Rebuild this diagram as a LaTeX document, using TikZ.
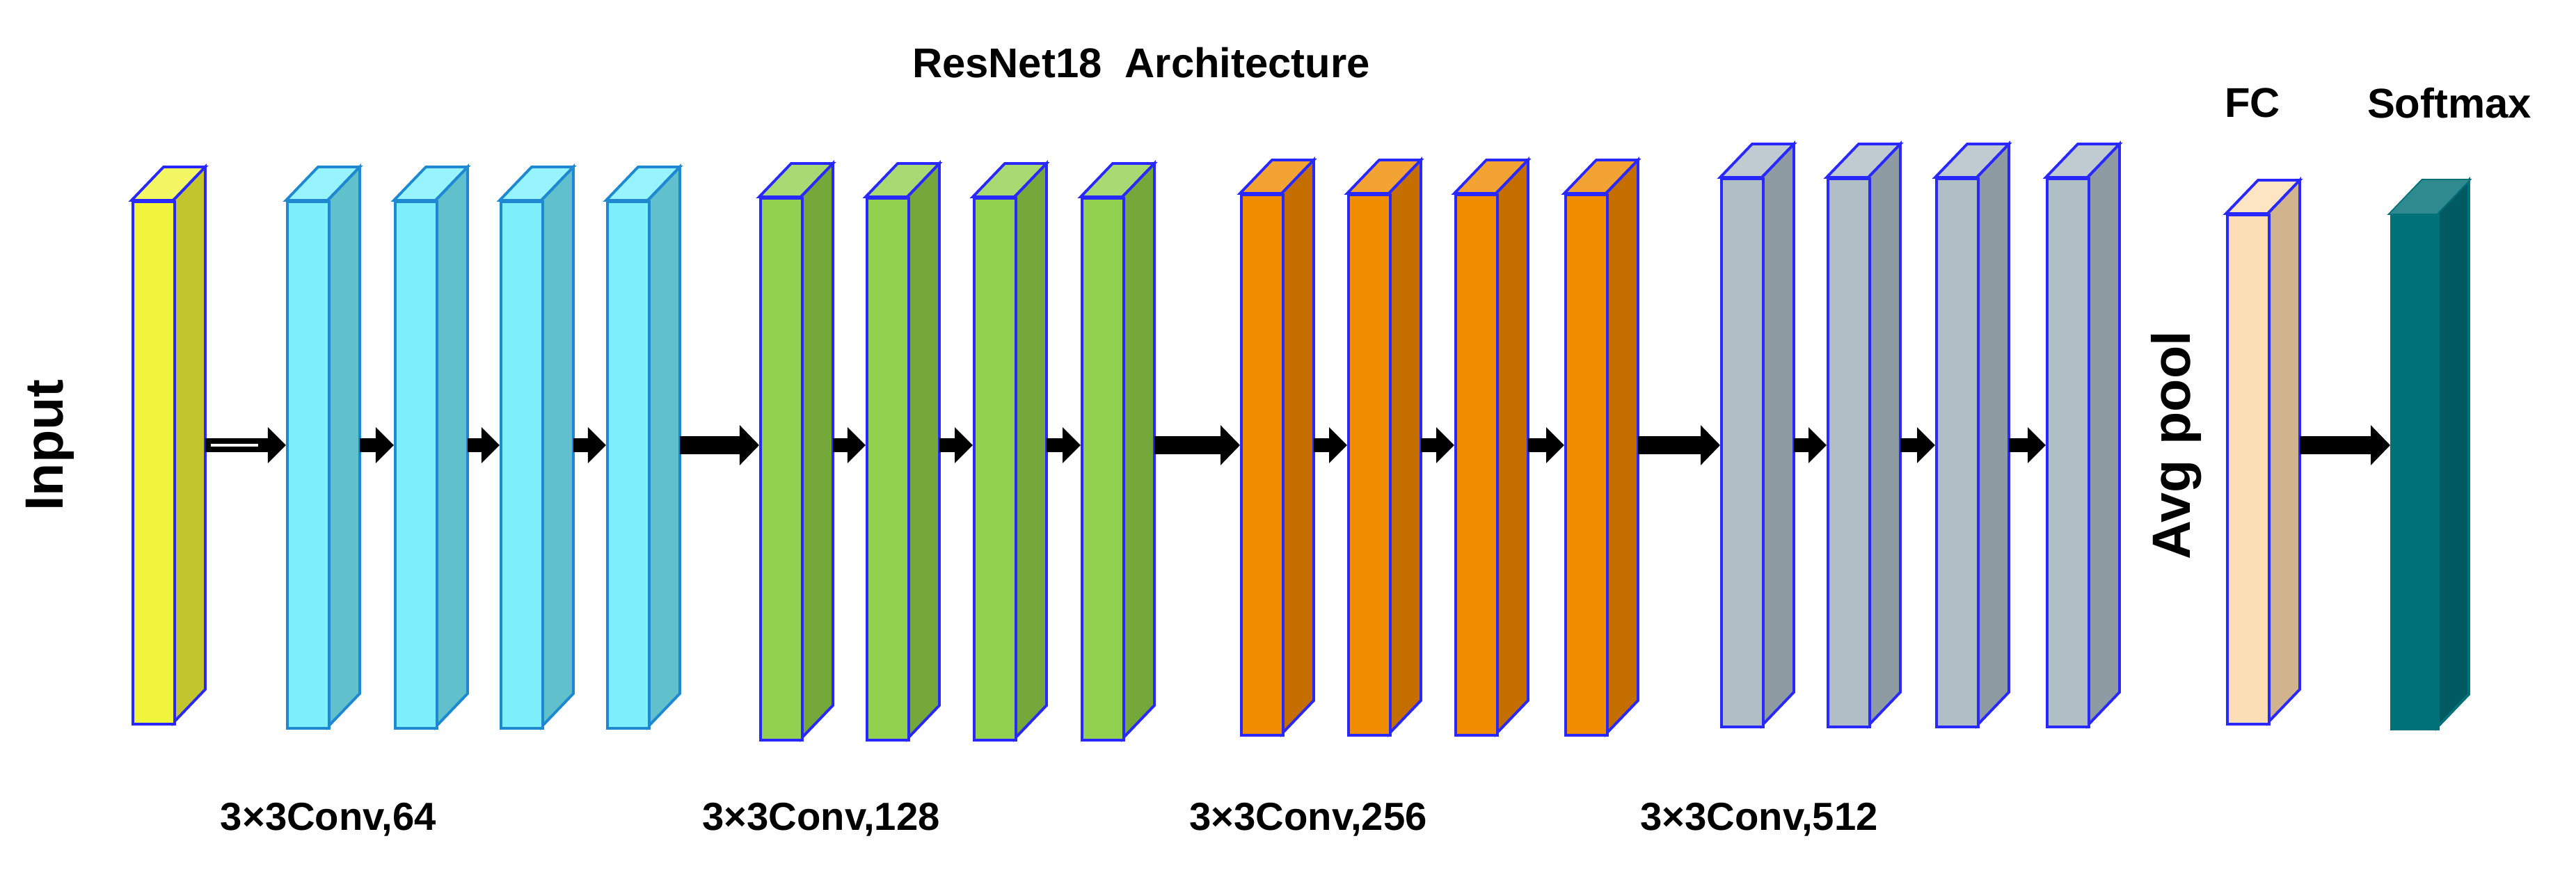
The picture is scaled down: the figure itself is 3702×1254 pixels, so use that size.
\documentclass[tikz,border=0pt]{standalone}
\usepackage{fontspec}
\setmainfont{Liberation Sans}
\usetikzlibrary{positioning,arrows.meta,calc}
\definecolor{inyel}{RGB}{240,245,60}
\definecolor{inyels}{RGB}{194,197,46}
\definecolor{cyanf}{RGB}{125,240,252}
\definecolor{cyans}{RGB}{96,192,204}
\definecolor{cyanb}{RGB}{30,136,208}
\definecolor{grnf}{RGB}{146,208,80}
\definecolor{grns}{RGB}{116,168,58}
\definecolor{orgf}{RGB}{240,140,0}
\definecolor{orgs}{RGB}{196,110,0}
\definecolor{gryf}{RGB}{176,190,197}
\definecolor{grys}{RGB}{142,155,163}
\definecolor{fcf}{RGB}{252,222,180}
\definecolor{fcs}{RGB}{209,180,142}
\definecolor{smf}{RGB}{0,112,121}
\definecolor{sms}{RGB}{0,90,98}
\definecolor{smt}{RGB}{47,138,144}
\definecolor{edge}{RGB}{40,40,255}

\tikzset{
  face/.style={draw=#1,line width=1.1pt,line join=miter},
  arr/.style={line width=0.2cm,-{Triangle[length=0.26cm,width=0.5cm]}},
  bigarr/.style={line width=0.26cm,-{Triangle[length=0.28cm,width=0.56cm]}},
  lbl/.style={font=\bfseries\fontsize{16}{18}\selectfont},
  ttl/.style={font=\bfseries\fontsize{17}{19}\selectfont},
  side/.style={font=\bfseries\fontsize{22}{24}\selectfont,rotate=90},
}
% #1 name, #2 x, #3 top, #4 bottom, #5 width, #6 front, #7 side, #8 edge
\newcommand{\prism}[8]{%
  \coordinate (#1-a) at (#2,#3);
  \coordinate (#1-b) at (#2+#5,#3);
  \coordinate (#1-c) at (#2+#5,#4);
  \coordinate (#1-d) at (#2,#4);
  \filldraw[face=#8,fill=#6!80!white] (#1-a) -- ++(46,-48) -- ++(#5,0) -- (#1-b) -- cycle;
  \filldraw[face=#8,fill=#7] (#1-b) -- ++(46,-48) -- ($(#1-c)+(46,-48)$) -- (#1-c) -- cycle;
  \node[face=#8,fill=#6,inner sep=0pt,anchor=north west,
        minimum width=#5*0.01cm,minimum height=(#4-#3)*0.01cm] (#1) at (#1-a) {};
  \coordinate (#1-out) at (#2+#5+46,640);
}

\begin{document}
\begin{tikzpicture}[x=0.01cm,y=-0.01cm]
\useasboundingbox (0,0) rectangle (3702,1254);

% blocks
\prism{in}{189}{288}{1039}{60}{inyel}{inyels}{edge}
\foreach \n/\x in {c1/411,c2/566,c3/718,c4/871}
  {\prism{\n}{\x}{288}{1045}{60}{cyanf}{cyans}{cyanb}}
\foreach \n/\x in {g1/1091,g2/1244,g3/1398,g4/1553}
  {\prism{\n}{\x}{283}{1062}{60}{grnf}{grns}{edge}}
\foreach \n/\x in {o1/1782,o2/1936,o3/2090,o4/2248}
  {\prism{\n}{\x}{278}{1055}{60}{orgf}{orgs}{edge}}
\foreach \n/\x in {s1/2472,s2/2625,s3/2781,s4/2940}
  {\prism{\n}{\x}{255}{1043}{60}{gryf}{grys}{edge}}
\prism{fc}{3199}{307}{1039}{60}{fcf}{fcs}{edge}
\prism{sm}{3435}{307}{1046}{67}{smf}{sms}{smf}
\fill[smt] (sm-a) -- ++(46,-48) -- ++(67,0) -- (sm-b) -- cycle;

% arrows
\draw[arr] (in-out) -- (c1.west |- in-out);
\draw[white,line width=1.2pt] ($(in-out)+(8,0)$) -- ($(c1.west |- in-out)+(-40,0)$);
\draw[arr] (c1-out) -- (c2.west |- c1-out);
\draw[arr] (c2-out) -- (c3.west |- c2-out);
\draw[arr] (c3-out) -- (c4.west |- c3-out);
\draw[bigarr] (c4-out) -- (g1.west |- c4-out);
\draw[arr] (g1-out) -- (g2.west |- g1-out);
\draw[arr] (g2-out) -- (g3.west |- g2-out);
\draw[arr] (g3-out) -- (g4.west |- g3-out);
\draw[bigarr] (g4-out) -- (o1.west |- g4-out);
\draw[arr] (o1-out) -- (o2.west |- o1-out);
\draw[arr] (o2-out) -- (o3.west |- o2-out);
\draw[arr] (o3-out) -- (o4.west |- o3-out);
\draw[bigarr] (o4-out) -- (s1.west |- o4-out);
\draw[arr] (s1-out) -- (s2.west |- s1-out);
\draw[arr] (s2-out) -- (s3.west |- s2-out);
\draw[arr] (s3-out) -- (s4.west |- s3-out);
\draw[bigarr] (fc-out) -- (sm.west |- fc-out);

% labels
\node[ttl] (title) at (1640,90) {ResNet18\ \ Architecture};
\node[ttl] (fcl) at (3237,148) {FC};
\node[ttl] (sml) at (3520,148) {Softmax};
\node[side] (inl) at (72,640) {Input};
\node[side] (avg) at (3128,640) {Avg pool};
\node[lbl] (l64) at (472,1178) {3×3Conv,64};
\node[lbl] (l128) at (1180,1178) {3×3Conv,128};
\node[lbl] (l256) at (1880,1178) {3×3Conv,256};
\node[lbl] (l512) at (2528,1178) {3×3Conv,512};
\end{tikzpicture}
\end{document}
